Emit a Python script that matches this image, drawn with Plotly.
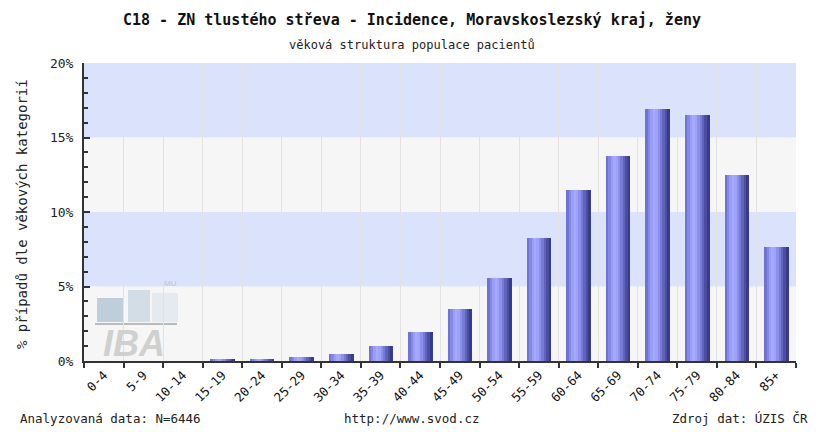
import plotly.graph_objects as go

categories = ['0-4', '5-9', '10-14', '15-19', '20-24', '25-29', '30-34', '35-39', '40-44',
              '45-49', '50-54', '55-59', '60-64', '65-69', '70-74', '75-79', '80-84', '85+']
share_pct = [0.0, 0.0, 0.0, 0.1, 0.08, 0.3, 0.48, 1.02, 1.97,
             3.47, 5.55, 8.23, 11.48, 13.76, 16.89, 16.51, 12.48, 7.67]
y_ticks = [0, 5, 10, 15, 20]
y_ticklabels = ['0%', '5%', '10%', '15%', '20%']

title = 'C18 - ZN tlustého střeva - Incidence, Moravskoslezský kraj, ženy'
subtitle = 'věková struktura populace pacientů'
y_title = '% případů dle věkových kategorií'
foot_left = 'Analyzovaná data: N=6446'
foot_mid = 'http://www.svod.cz'
foot_right = 'Zdroj dat: ÚZIS ČR'

MONO = 'DejaVu Sans Mono'

# cylinder-like shading of the bars: slices from left to right
shade = ['#6f74d2', '#8489e6', '#9a9ef6', '#a6aaff', '#9ea2f8', '#8c90ea',
         '#777bd6', '#6064bd', '#4b4ea2', '#383b86']
bar_w = 0.61
step = bar_w / len(shade)

fig = go.Figure()
for i, c in enumerate(shade):
    fig.add_trace(go.Bar(
        x=categories, y=share_pct,
        width=step * 1.15, offset=-bar_w / 2 + i * step,
        marker=dict(color=c, line=dict(width=0)),
        showlegend=False, hoverinfo='skip' if i else None,
    ))

# page has an 8px body margin, so work in screen pixels and shift
OFF = 8
W, H = 826, 432
L, R, T, B = 84 - OFF, 796 - OFF, 63 - OFF, 361 - OFF


def px(x):
    return (x - OFF - L) / (R - L)


def py(y):
    return (B - (y - OFF)) / (B - T)


# alternating background bands
band_cols = ['#f6f6f6', '#dbe2fb']
shapes = []
for k in range(4):
    shapes.append(dict(type='rect', xref='x domain', yref='y', x0=0, x1=1,
                       y0=y_ticks[k], y1=y_ticks[k + 1], fillcolor=band_cols[k % 2],
                       line=dict(width=0), layer='below'))

# IBA / MU watermark logo
for (x0, x1, y0, c) in [(97, 123, 298, '#bfcedb'), (128, 150, 290, '#d3dde6'), (152, 178, 293, '#e4eaf0')]:
    shapes.append(dict(type='rect', xref='paper', yref='paper', x0=px(x0), x1=px(x1),
                       y0=py(322), y1=py(y0), fillcolor=c, line=dict(width=0), layer='below'))
shapes.append(dict(type='line', xref='paper', yref='paper', x0=px(95), x1=px(177),
                   y0=py(324), y1=py(324), line=dict(color='#bbbbbb', width=2), layer='below'))


def label(text, x, y, size, anchor='center', family=MONO, color='#222', angle=0):
    return dict(text=text, x=px(x), y=py(y), xref='paper', yref='paper', showarrow=False,
                xanchor=anchor, yanchor='middle', textangle=angle,
                font=dict(family=family, size=size, color=color))


annotations = [
    label('<b>' + title + '</b>', 412, 20, 15, color='#111'),
    label(subtitle, 412, 45, 12),
    label(y_title, 22, 214, 14, angle=-90),
    label('<b><i>IBA</i></b>', 134, 343, 36, family='Liberation Sans', color='#d0d0d0'),
    label('MU', 170, 283, 8, family='Liberation Sans', color='#bcc6d8'),
    label(foot_left, 18, 418, 12.5, anchor='left'),
    label(foot_mid, 411, 418, 12.5),
    label(foot_right, 810, 418, 12.5, anchor='right'),
]

fig.update_layout(
    width=W, height=H,
    margin=dict(l=L, r=W - R, t=T, b=H - B, autoexpand=False),
    paper_bgcolor='white', plot_bgcolor='white',
    barmode='overlay', bargap=0,
    shapes=shapes, annotations=annotations,
    font=dict(family=MONO, color='#222'),
    xaxis=dict(
        type='category', tickson='boundaries', ticks='outside', ticklen=5,
        tickcolor='#333', tickwidth=1.5, automargin=False,
        showgrid=True, gridcolor='#e2e2e2', gridwidth=1,
        showline=True, linecolor='#333', linewidth=2,
        tickangle=-45, tickfont=dict(family=MONO, size=12.5, color='#111'),
        range=[-0.5, 17.5],
    ),
    yaxis=dict(
        range=[0, 20], tickvals=y_ticks, ticktext=y_ticklabels, automargin=False,
        ticks='inside', ticklen=6, tickcolor='#333', tickwidth=1.5,
        minor=dict(dtick=1, ticks='inside', ticklen=4, tickcolor='#333', showgrid=False),
        showgrid=False, zeroline=False, ticklabelstandoff=6,
        showline=True, linecolor='#333', linewidth=2,
        tickfont=dict(family=MONO, size=13, color='#222'),
    ),
)

fig.write_html('out.html')
